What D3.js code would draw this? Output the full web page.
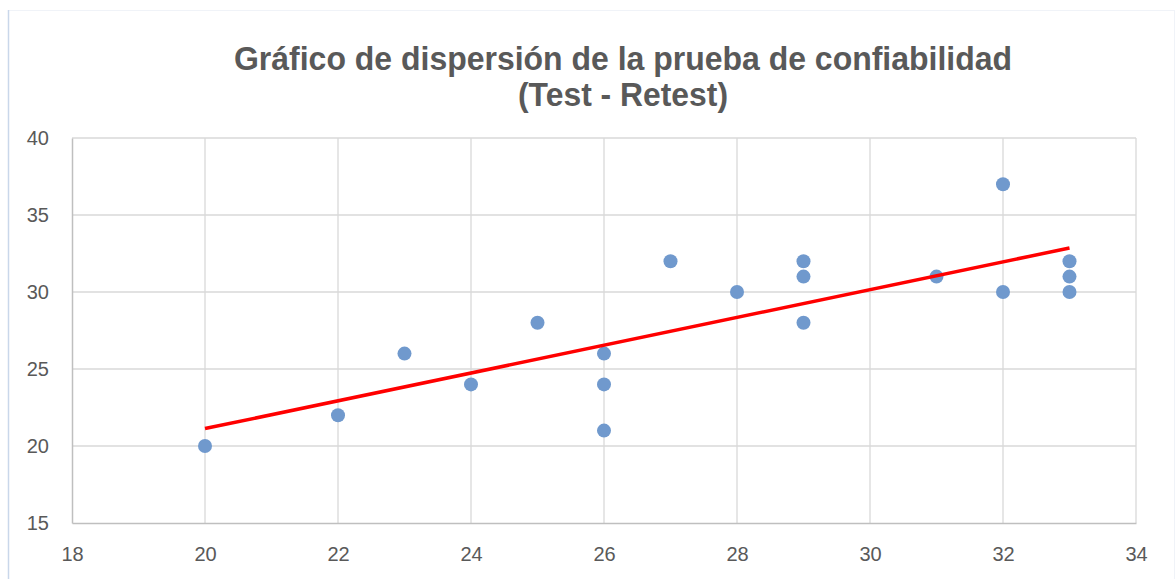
<!DOCTYPE html>
<html>
<head>
<meta charset="utf-8">
<script src="https://cdn.jsdelivr.net/npm/d3@7"></script>
<style>
  body { margin: 0; background: #fff; }
  text { font-family: "Liberation Sans", Arial, sans-serif; }
</style>
</head>
<body>
<svg id="chart" width="1176" height="579"></svg>
<script>
// data
const testScores   = [20, 22, 23, 24, 25, 26, 26, 26, 27, 28, 29, 29, 29, 31, 32, 32, 33, 33, 33];
const retestScores = [20, 22, 26, 24, 28, 26, 24, 21, 32, 30, 32, 31, 28, 31, 37, 30, 32, 31, 30];
const xTicks = [18, 20, 22, 24, 26, 28, 30, 32, 34];
const yTicks = [15, 20, 25, 30, 35, 40];
const titleLines = ["Gráfico de dispersión de la prueba de confiabilidad", "(Test - Retest)"];

const margin = {top: 138, right: 40, bottom: 56, left: 72};
const W = 1176, H = 579;
const width = W - margin.left - margin.right,
      height = H - margin.top - margin.bottom;

const svg = d3.select("#chart");

// outer chart frame (faint)
svg.append("rect")
    .attr("x", 8.5).attr("y", 10.5)
    .attr("width", W - 10).attr("height", H)
    .attr("fill", "none")
    .attr("stroke", "#f0f3f8");
svg.append("line")//left edge is a little bluer
    .attr("x1", 8.5).attr("x2", 8.5).attr("y1", 10).attr("y2", H)
    .attr("stroke", "#c9d7ea").attr("stroke-width", 1.5);

const x = d3.scaleLinear().domain([18, 34]).range([0, width]);
const y = d3.scaleLinear().domain([15, 40]).range([height, 0]);

const g = svg.append("g")
    .attr("transform", "translate(" + margin.left + "," + margin.top + ")");

// grid
g.append("g").selectAll("line")
  .data(xTicks.slice(1))
  .enter().append("line")
    .attr("x1", d => x(d)).attr("x2", d => x(d))
    .attr("y1", 0).attr("y2", height)
    .attr("stroke", "#d9d9d9").attr("stroke-width", 1.3);
g.append("g").selectAll("line")
  .data(yTicks.slice(1))
  .enter().append("line")
    .attr("x1", 0).attr("x2", width)
    .attr("y1", d => y(d)).attr("y2", d => y(d))
    .attr("stroke", "#d9d9d9").attr("stroke-width", 1.3);

// axes
const xAxis = d3.axisBottom(x).tickValues(xTicks).tickSize(0).tickPadding(24);
const yAxis = d3.axisLeft(y).tickValues(yTicks).tickSize(0).tickPadding(23);

g.append("g")
    .attr("transform", "translate(0," + height + ")")
    .call(xAxis)
    .call(a => a.select(".domain").attr("stroke", "#bfbfbf").attr("stroke-width", 1.5));
g.append("g")
    .call(yAxis)
    .call(a => a.select(".domain").attr("stroke", "#bfbfbf").attr("stroke-width", 1.5));
g.selectAll(".tick text")
    .attr("fill", "#595959")
    .style("font-size", "20px")
    .style("font-family", "'Liberation Sans', Arial, sans-serif");

// linear trend line (least squares)
const n = testScores.length;
const mx = d3.mean(testScores), my = d3.mean(retestScores);
let sxy = 0, sxx = 0;
for (let i = 0; i < n; i++) {
  sxy += (testScores[i] - mx) * (retestScores[i] - my);
  sxx += (testScores[i] - mx) * (testScores[i] - mx);
}
const slope = sxy / sxx, intercept = my - slope * mx;
const xr = d3.extent(testScores);

// points
g.append("g").selectAll("circle")
  .data(testScores)
  .enter().append("circle")
    .attr("cx", d => x(d))
    .attr("cy", (d, i) => y(retestScores[i]))
    .attr("r", 7)
    .attr("fill", "#7099cd");

g.append("line")
    .attr("x1", x(xr[0])).attr("y1", y(intercept + slope * xr[0]))
    .attr("x2", x(xr[1])).attr("y2", y(intercept + slope * xr[1]))
    .attr("stroke", "#ff0000")
    .attr("stroke-width", 3.5);

// title
const title = svg.append("text")
    .attr("text-anchor", "middle")
    .attr("fill", "#595959")
    .style("font-size", "34px")
    .style("font-weight", "bold");
title.append("tspan").attr("x", 623).attr("y", 70)
    .attr("textLength", 778).attr("lengthAdjust", "spacingAndGlyphs")
    .text(titleLines[0]);
title.append("tspan").attr("x", 623).attr("y", 106)
    .attr("textLength", 210).attr("lengthAdjust", "spacingAndGlyphs")
    .text(titleLines[1]);
</script>
</body>
</html>
